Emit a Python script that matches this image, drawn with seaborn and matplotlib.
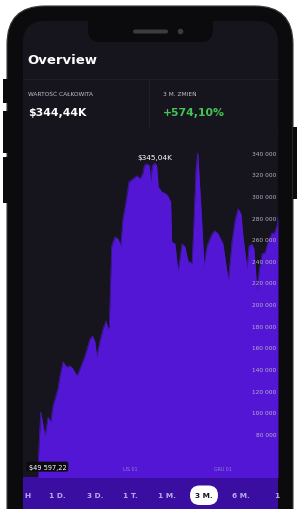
import matplotlib
matplotlib.use("Agg")
import matplotlib.pyplot as plt
import seaborn as sns
from matplotlib.patches import FancyBboxPatch, Circle, Rectangle

# ---------------- data ----------------
days = [1.32, 2.2, 3.58, 4.55, 5.42, 6.16, 7.77, 8.42, 9.39, 10.58, 11.65, 12.61,
        13.9, 14.87, 16.48, 18.1, 18.97, 19.71, 20.26, 21.32, 22.29, 23.26, 23.9,
        24.3, 25.1, 26.16, 27.13, 28.0, 28.74, 29.71, 30.68, 31.97, 33.16, 34.23,
        35.1, 35.61, 36.39, 37.23, 37.68, 38.19, 39.06, 39.61, 40.13, 41.23, 42.61,
        43.35, 44.13, 44.45, 45.52, 46.48, 47.77, 48.74, 49.71, 51.0, 51.48, 52.29,
        52.87, 53.35, 54.23, 54.87, 55.84, 57.45, 58.42, 59.39, 61.0, 62.29, 62.71,
        63.9, 64.87, 65.84, 66.81, 67.45, 68.74, 69.39, 70.35, 71.0, 71.97, 72.61,
        73.58, 74.55, 75.52, 76.81, 77.45, 78.42, 78.74]
values = [49597, 100200, 77900, 95500, 90900, 105700, 121500, 133500, 146500, 141800,
          142800, 140000, 133500, 140000, 152000, 167800, 170500, 165000, 151100,
          165900, 177000, 184400, 177000, 178900, 253900, 262200, 260400, 253900,
          278900, 294600, 313100, 315900, 318700, 315900, 320600, 328000, 329800,
          328000, 313100, 328000, 330500, 328000, 308500, 303900, 302000, 299300,
          294600, 257600, 255700, 229800, 255700, 253000, 240000, 237200, 266800,
          325200, 340000, 315900, 272400, 235400, 253900, 265000, 267800, 265000,
          255700, 229800, 221500, 257600, 277000, 288100, 283500, 263100, 232600,
          253900, 255700, 251100, 212200, 229800, 246500, 247400, 257600, 265900,
          265000, 272400, 281000]
y_ticks = [80000, 100000, 120000, 140000, 160000, 180000, 200000, 220000, 240000,
           260000, 280000, 300000, 320000, 340000]
x_tick_days = [31, 61]
x_tick_labels = ["LIS 01", "GRU 01"]
max_label = "$345,04K"
min_label = "$49 597,22"
title = "Overview"
stat1_label, stat1_value = "WARTOŚĆ CAŁKOWITA", "$344,44K"
stat2_label, stat2_value = "3 M. ZMIEŃ", "+574,10%"
ranges = ["H", "1 D.", "3 D.", "1 T.", "1 M.", "3 M.", "6 M.", "1"]
selected_range = "3 M."

# ---------------- style ----------------
sns.set_theme(style="dark")
plt.rcParams['font.family'] = ['DejaVu Sans']

W, H = 300, 510
SCREEN = '#16151d'
BODY = '#0b0b0d'
PURPLE = '#5216d4'
BAR = '#3a0ea0'

fig = plt.figure(figsize=(3, 5.1), dpi=100, facecolor='white')

bg = fig.add_axes([0, 0, 1, 1], zorder=0)
bg.set_xlim(0, W)
bg.set_ylim(H, 0)
bg.axis('off')

# phone body and screen
bg.add_patch(FancyBboxPatch((7, 7), 286, 620, boxstyle="round,pad=0,rounding_size=38",
                            fc=BODY, ec='#3a3a3a', lw=0.8))
bg.add_patch(FancyBboxPatch((23, 22), 255, 620, boxstyle="round,pad=0,rounding_size=22",
                            fc=SCREEN, ec='none'))
# notch
bg.add_patch(FancyBboxPatch((88, 8), 125, 35, boxstyle="round,pad=0,rounding_size=12",
                            fc=BODY, ec='none'))
bg.add_patch(FancyBboxPatch((133, 30.5), 35, 4, boxstyle="round,pad=0,rounding_size=2",
                            fc='#3c3c40', ec='none'))
bg.add_patch(Circle((180.5, 32.5), 2.8, fc='#3c3c40', ec='none'))
# side buttons
bg.add_patch(Rectangle((2.5, 80), 5, 24, fc=BODY, ec='none'))
bg.add_patch(Rectangle((2.5, 112), 5, 42, fc=BODY, ec='none'))
bg.add_patch(Rectangle((2.5, 158), 5, 46, fc=BODY, ec='none'))
bg.add_patch(Rectangle((292.5, 128), 4, 72, fc=BODY, ec='none'))

# header separators
bg.plot([23, 278], [80, 80], color='#22212b', lw=0.6)
bg.plot([149, 149], [80, 130], color='#24232d', lw=0.6)
bg.plot([23, 278], [130, 130], color='#24232d', lw=0.6)

def fx(px):
    return px / W

def fy(py):
    return 1 - py / H

fig.text(fx(27), fy(61), title, color='white', fontsize=9.5, fontweight='bold',
         ha='left', va='center')
fig.text(fx(28), fy(95), stat1_label, color='#c4c2cc', fontsize=4.2, ha='left', va='center')
fig.text(fx(28), fy(113), stat1_value, color='white', fontsize=7.8, fontweight='bold',
         ha='left', va='center')
fig.text(fx(163), fy(95), stat2_label, color='#c4c2cc', fontsize=4.2, ha='left', va='center')
fig.text(fx(163), fy(113), stat2_value, color='#43c553', fontsize=7.8, fontweight='bold',
         ha='left', va='center')

# bottom range bar
bg.add_patch(Rectangle((23, 478), 255, 40, fc=BAR, ec='none', zorder=2))
range_px = [27, 57, 95, 130, 167, 204, 241, 277]
for lab, px in zip(ranges, range_px):
    if lab == selected_range:
        bg.add_patch(FancyBboxPatch((190, 486.5), 28, 19.5,
                                    boxstyle="round,pad=0,rounding_size=9.7",
                                    fc='white', ec='none', zorder=3))
        col = '#16151d'
    else:
        col = '#b8acec'
    bg.text(px, 496.5, lab, color=col, fontsize=5.3, fontweight='bold',
            ha='center', va='center', zorder=4)

# ---------------- chart ----------------
ax = fig.add_axes([23 / W, (H - 478) / H, 255 / W, 348 / H], zorder=1)
ax.set_facecolor(SCREEN)
sns.lineplot(x=days, y=values, ax=ax, color=PURPLE, linewidth=0.4)
ax.fill_between(days, values, 0, color=PURPLE, linewidth=0)
ax.set_xlim(-3.5, 78.75)
ax.set_ylim(40000, 362000)
for s in ax.spines.values():
    s.set_visible(False)
ax.grid(False)
ax.set_axisbelow(False)

ax.set_yticks(y_ticks, [f"{v:,}".replace(",", " ") for v in y_ticks])
ax.yaxis.tick_right()
ax.tick_params(axis='y', length=0, pad=-1, labelsize=4.2, labelcolor='#b6b2c8')
for lab in ax.get_yticklabels():
    lab.set_horizontalalignment('right')

ax.set_xticks(x_tick_days, x_tick_labels)
ax.tick_params(axis='x', length=0, pad=-8, labelsize=3.4, labelcolor='#8f80da')
ax.xaxis.set_zorder(5)
ax.yaxis.set_zorder(5)
ax.set_xlabel("")
ax.set_ylabel("")

imax = values.index(max(values[:45]))
ax.annotate(max_label, xy=(days[imax], values[imax]), xytext=(0, 2),
            textcoords='offset points', ha='center', va='bottom',
            color='white', fontsize=5.3, zorder=6)
ax.annotate(min_label, xy=(days[0], values[0]), xytext=(6.8, 0),
            textcoords='offset points', ha='center', va='center',
            color='white', fontsize=4.8, zorder=6,
            bbox=dict(boxstyle='round,pad=0.3,rounding_size=0.3', fc='#0b0a10', ec='none'))

fig.savefig("out.png", dpi=100, facecolor='white')
